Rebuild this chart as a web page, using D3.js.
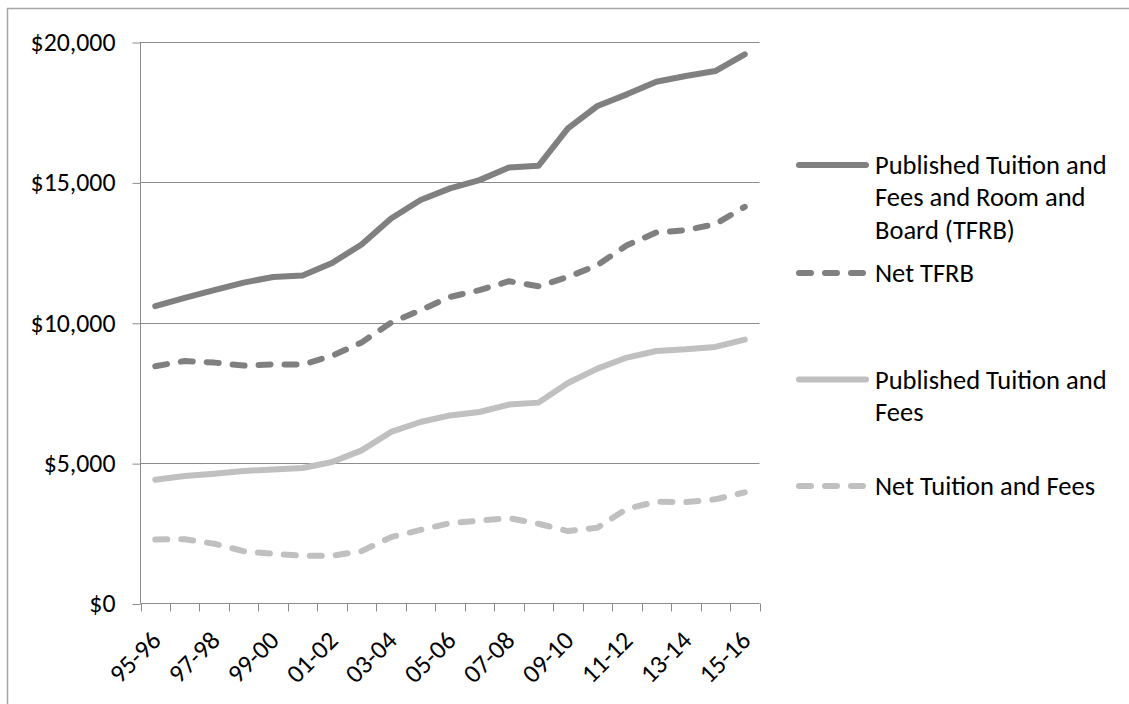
<!DOCTYPE html>
<html>
<head>
<meta charset="utf-8">
<script src="https://cdn.jsdelivr.net/npm/d3@7"></script>
<style>
  html, body { margin: 0; padding: 0; background: #fff; }
  svg { display: block; }
  text { font-family: Carlito, Lato, "Open Sans", sans-serif; fill: #000; }
</style>
</head>
<body>
<svg id="chart" width="1129" height="704"></svg>
<script>
// ---- data ----
const categories = ["95-96","96-97","97-98","98-99","99-00","00-01","01-02","02-03","03-04","04-05",
  "05-06","06-07","07-08","08-09","09-10","10-11","11-12","12-13","13-14","14-15","15-16"];
const publishedTFRB = [10590,10885,11160,11430,11630,11680,12130,12790,13715,14370,
  14785,15080,15530,15590,16920,17720,18135,18585,18790,18965,19560];
const netTFRB = [8450,8640,8580,8475,8520,8510,8820,9300,10000,10450,
  10920,11160,11480,11300,11630,12050,12760,13215,13300,13510,14130];
const publishedTF = [4410,4540,4625,4717,4777,4825,5040,5455,6110,6465,
  6700,6820,7085,7155,7855,8365,8760,8995,9055,9140,9400];
const netTF = [2280,2290,2130,1865,1770,1700,1700,1865,2365,2620,
  2865,2950,3040,2840,2580,2700,3375,3625,3610,3710,3960];
const yTicks = [0,5000,10000,15000,20000];
const xTickLabels = ["95-96","97-98","99-00","01-02","03-04","05-06","07-08","09-10","11-12","13-14","15-16"];
const seriesNames = ["Published Tuition and Fees and Room and Board (TFRB)","Net TFRB","Published Tuition and Fees","Net Tuition and Fees"];

// ---- layout ----
const svg = d3.select("#chart");
const plot = {left: 140.5, right: 759.5, top: 42, bottom: 603.5};

// outer border (extends beyond right / bottom)
svg.append("path")
  .attr("d", "M7.5,1000 L7.5,8.5 L1200,8.5")
  .attr("fill", "none").attr("stroke", "#a6a6a6").attr("stroke-width", 1.5);

const x = d3.scaleBand().domain(categories).range([plot.left, plot.right]).padding(0);
const y = d3.scaleLinear().domain([0, 20000]).range([plot.bottom, plot.top]);

// gridlines
svg.append("g").selectAll("line").data(yTicks.filter(d => d > 0)).join("line")
  .attr("x1", plot.left).attr("x2", plot.right)
  .attr("y1", d => Math.round(y(d)) + 0.5).attr("y2", d => Math.round(y(d)) + 0.5)
  .attr("stroke", "#8c8c8c").attr("stroke-width", 1);

// y axis
const yAxis = svg.append("g").attr("transform", `translate(${plot.left},0)`)
  .call(d3.axisLeft(y).tickValues(yTicks).tickSize(8).tickPadding(17)
    .tickFormat(d => "$" + d3.format(",")(d)));
yAxis.select(".domain").attr("stroke", "#8c8c8c").attr("d", `M0,${plot.top}V${plot.bottom}`);
yAxis.selectAll(".tick line").attr("stroke", "#8c8c8c").attr("transform", "translate(0,0.5)");
yAxis.selectAll(".tick text").attr("font-size", 25.8).attr("fill", "#000")
  .style("font-family", "Carlito, Lato, 'Open Sans', sans-serif");

// x axis (ticks at category boundaries)
const boundaries = categories.map(c => x(c)).concat([plot.right]);
const xg = svg.append("g");
xg.append("line").attr("x1", plot.left).attr("x2", plot.right)
  .attr("y1", plot.bottom).attr("y2", plot.bottom).attr("stroke", "#8c8c8c");
xg.selectAll("line.tk").data(boundaries).join("line").attr("class", "tk")
  .attr("x1", d => Math.round(d) + 0.5).attr("x2", d => Math.round(d) + 0.5)
  .attr("y1", plot.bottom).attr("y2", plot.bottom + 8).attr("stroke", "#8c8c8c");
xg.selectAll("text").data(xTickLabels).join("text")
  .attr("transform", d => `translate(${x(d) + x.bandwidth() / 2 + 1},${plot.bottom + 32}) rotate(-45)`)
  .attr("text-anchor", "end").attr("dy", "0.35em").attr("font-size", 25.8)
  .text(d => d);

// lines
const series = [
  {name: seriesNames[0], values: publishedTFRB, color: "#808080", dash: null},
  {name: seriesNames[1], values: netTFRB, color: "#808080", dash: "12 14"},
  {name: seriesNames[2], values: publishedTF, color: "#c0c0c0", dash: null},
  {name: seriesNames[3], values: netTF, color: "#c0c0c0", dash: "12 14"}
];
const line = d3.line()
  .x((d, i) => x(categories[i]) + x.bandwidth() / 2)
  .y(d => y(d));
svg.append("g").selectAll("path").data(series).join("path")
  .attr("d", s => line(s.values))
  .attr("fill", "none").attr("stroke", s => s.color).attr("stroke-width", 6)
  .attr("stroke-linecap", "round").attr("stroke-linejoin", "round")
  .attr("stroke-dasharray", s => s.dash);

// legend
const legendLines = [
  ["Published Tuition and", "Fees and Room and", "Board (TFRB)"],
  ["Net TFRB"],
  ["Published Tuition and", "Fees"],
  ["Net Tuition and Fees"]
];
const legendY = [165, 273, 379.5, 486];
const lg = svg.append("g");
series.forEach((s, i) => {
  lg.append("line").attr("x1", 799).attr("x2", 866)
    .attr("y1", legendY[i]).attr("y2", legendY[i])
    .attr("stroke", s.color).attr("stroke-width", 6).attr("stroke-linecap", "round")
    .attr("stroke-dasharray", s.dash);
  const t = lg.append("text").attr("x", 875).attr("y", legendY[i]).attr("font-size", 26.5);
  legendLines[i].forEach((ln, j) => {
    t.append("tspan").attr("x", 875).attr("y", legendY[i] + j * 32.2).attr("dy", "0.35em").text(ln);
  });
});
</script>
</body>
</html>
